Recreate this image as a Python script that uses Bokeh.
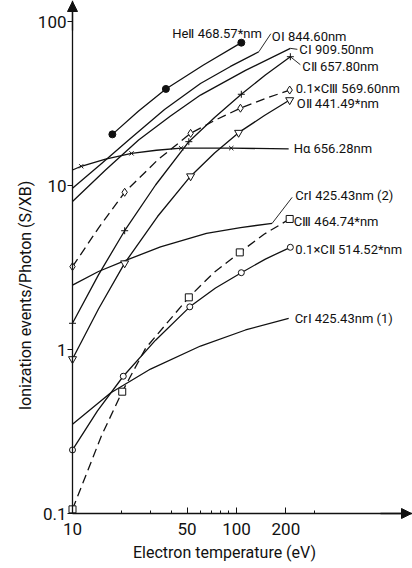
import numpy as np
from bokeh.plotting import figure
from bokeh.models import (Range1d, FixedTicker, CustomJSTickFormatter, Label,
                          Arrow, NormalHead)
from bokeh.embed import file_html
from bokeh.resources import INLINE

# ---- S/XB (ionization events per photon) versus electron temperature (eV) ----
HE2_X = [17.5, 25.3, 37.1, 62.9, 107.0]
HE2_Y = [20.5, 28.5, 38.8, 54.3, 74.3]
HE2_MX = [17.5, 37.1, 107.0]
HE2_MY = [20.5, 38.8, 74.3]

O1_X = [10.0, 14.8, 22.0, 36.4, 60.3, 91.9, 136.8]
O1_Y = [9.61, 13.43, 18.94, 29.07, 41.9, 53.2, 65.4]

C1_X = [10.0, 15.9, 25.3, 39.6, 60.3, 113.5, 213.0]
C1_Y = [7.99, 12.43, 18.94, 26.5, 35.6, 50.3, 68.6]

C2_X = [10.0, 14.4, 20.8, 32.1, 51.2, 73.5, 107.0, 150.0, 213.0]
C2_Y = [1.445, 2.85, 5.3, 10.07, 18.5, 26.0, 36.0, 47.2, 61.0]
C2_MX = [10.0, 20.8, 51.2, 107.0, 213.0]
C2_MY = [1.445, 5.3, 18.5, 36.0, 61.0]

C3A_X = [10.0, 14.4, 20.8, 33.0, 52.5, 74.5, 105.7, 150.0, 211.0]
C3A_Y = [3.2, 5.5, 9.09, 14.3, 20.8, 25.1, 29.6, 33.9, 38.2]
C3A_MX = [10.0, 20.8, 52.5, 105.7, 211.0]
C3A_MY = [3.2, 9.09, 20.8, 29.6, 38.2]

O2_X = [10.0, 14.4, 20.8, 33.0, 52.5, 73.5, 103.0, 148.0, 211.0]
O2_Y = [0.875, 1.766, 3.36, 6.47, 11.4, 15.8, 21.0, 26.7, 33.2]
O2_MX = [10.0, 20.8, 52.5, 103.0, 211.0]
O2_MY = [0.875, 3.36, 11.4, 21.0, 33.2]

HA_X = [10.0, 11.3, 15.9, 22.9, 32.5, 46.0, 92.9, 208.0]
HA_Y = [12.43, 13.1, 14.5, 15.7, 16.4, 16.9, 16.9, 16.7]
HA_MX = [11.3, 22.9, 46.0, 92.9]
HA_MY = [13.1, 15.7, 16.9, 16.9]

CR2_X = [10.0, 14.4, 20.55, 34.4, 65.6, 105.8, 165.0]
CR2_Y = [2.47, 2.99, 3.46, 4.22, 5.11, 5.54, 5.88]

C3B_X = [10.0, 15.0, 20.1, 27.9, 51.2, 72.4, 104.7, 148.0, 211.0]
C3B_Y = [0.106, 0.297, 0.553, 1.017, 2.08, 2.93, 3.91, 5.06, 6.25]
C3B_MX = [10.0, 20.1, 51.2, 104.7, 211.0]
C3B_MY = [0.106, 0.553, 2.08, 3.91, 6.25]

C2B_X = [10.0, 14.2, 20.4, 32.1, 51.9, 74.5, 107.0, 150.0, 213.0]
C2B_Y = [0.244, 0.422, 0.687, 1.14, 1.82, 2.37, 2.94, 3.56, 4.2]
C2B_MX = [10.0, 20.4, 51.9, 107.0, 213.0]
C2B_MY = [0.244, 0.687, 1.82, 2.94, 4.2]

CR1_X = [10.0, 17.05, 29.9, 60.3, 113.5, 208.0]
CR1_Y = [0.35, 0.543, 0.76, 1.05, 1.315, 1.55]

X_TICKS = [10, 50, 100, 200]
X_MINOR = [20, 30, 40, 60, 70, 80, 90, 300]
Y_TICKS = [0.1, 1, 10, 100]

# ---- page geometry (pixels); the frame fills the whole canvas ----
W, H = 412, 568
AXIS_X_PX = 72           # screen column of T = 10 eV
AXIS_Y_PX = 513          # screen row of S/XB = 0.1
DECADE = 164.0           # pixels per decade on both axes
X0, Y0 = 10.0, 0.1

def x_px(x):
    return AXIS_X_PX + DECADE * np.log10(x / X0)

def y_px(y):
    return AXIS_Y_PX - DECADE * np.log10(y / Y0)

def px_x(px):
    return X0 * 10 ** ((px - AXIS_X_PX) / DECADE)

def px_y(py):
    return Y0 * 10 ** ((AXIS_Y_PX - py) / DECADE)

FONT = "Roboto"
INK = "#111111"

p = figure(width=W, height=H, x_axis_type="log", y_axis_type="log",
           x_range=Range1d(px_x(0), px_x(W)),
           y_range=Range1d(px_y(H), px_y(0)),
           output_backend="svg", toolbar_location=None,
           min_border_left=0, min_border_right=0,
           min_border_top=0, min_border_bottom=0)
p.outline_line_color = None
p.grid.visible = False
p.background_fill_color = "white"
p.border_fill_color = "white"

# x axis along S/XB = 0.1, starting at 10 eV, ticks pointing into the plot
xa = p.xaxis[0]
xa.fixed_location = Y0
xa.bounds = (X0, px_x(W))
xa.ticker = FixedTicker(ticks=X_TICKS, minor_ticks=X_MINOR)
xa.formatter = CustomJSTickFormatter(code="return String(tick)")
xa.major_tick_in = 6
xa.major_tick_out = 0
xa.minor_tick_in = 3
xa.minor_tick_out = 0
xa.major_label_standoff = 9

# y axis along T = 10 eV
ya = p.yaxis[0]
ya.fixed_location = X0
ya.bounds = (Y0, px_y(0))
ya.ticker = FixedTicker(ticks=Y_TICKS, minor_ticks=[])
ya.formatter = CustomJSTickFormatter(code="return String(tick)")
ya.major_tick_in = 0
ya.major_tick_out = 5
ya.major_label_standoff = 1

for a in (xa, ya):
    a.axis_line_width = 1.3
    a.axis_line_color = INK
    a.major_tick_line_color = INK
    a.minor_tick_line_color = INK
    a.major_label_text_font = FONT
    a.major_label_text_font_size = "17px"
    a.major_label_text_color = INK

# arrow heads on both axes
p.add_layout(Arrow(end=NormalHead(size=10, fill_color=INK, line_color=INK),
                   x_start=X0, y_start=px_y(30), x_end=X0, y_end=px_y(1),
                   line_color=INK, line_width=1.3))
p.add_layout(Arrow(end=NormalHead(size=10, fill_color=INK, line_color=INK),
                   x_start=px_x(380), y_start=Y0, x_end=px_x(411), y_end=Y0,
                   line_color=INK, line_width=1.3))

SOLID, DASHED = "solid", "9 5"
series = [
    # text, line x, line y, marker x, marker y, marker, filled, dash, label offset, leader
    ("He\u2161 468.57*nm", HE2_X, HE2_Y, HE2_MX, HE2_MY, "circle", True, SOLID, (-69, -9), None),
    ("O\u2160 844.60nm", O1_X, O1_Y, None, None, None, False, SOLID, (13, -15), (12, -18)),
    ("C\u2160 909.50nm", C1_X, C1_Y, None, None, None, False, SOLID, (9, 1), (7, 1)),
    ("C\u2161 657.80nm", C2_X, C2_Y, C2_MX, C2_MY, "cross", False, SOLID, (12, 10), (10, 8)),
    ("0.1\u00d7C\u2162 569.60nm", C3A_X, C3A_Y, C3A_MX, C3A_MY, "diamond", False, DASHED, (6, -2), None),
    ("O\u2161 441.49*nm", O2_X, O2_Y, O2_MX, O2_MY, "inverted_triangle", False, SOLID, (7, 3), None),
    ("H\u03b1 656.28nm", HA_X, HA_Y, HA_MX, HA_MY, "x", False, SOLID, (5, 0), None),
    ("Cr\u2160 425.43nm (2)", CR2_X, CR2_Y, None, None, None, False, SOLID, (23, -28), (20, -26)),
    ("C\u2162 464.74*nm", C3B_X, C3B_Y, C3B_MX, C3B_MY, "square", False, DASHED, (4, 3), None),
    ("0.1\u00d7C\u2161 514.52*nm", C2B_X, C2B_Y, C2B_MX, C2B_MY, "circle", False, SOLID, (5, 2), None),
    ("Cr\u2160 425.43nm (1)", CR1_X, CR1_Y, None, None, None, False, SOLID, (6, 0), None),
]

for text, lx, ly, mx, my, marker, filled, dash, (dx, dy), leader in series:
    p.line(lx, ly, line_color=INK, line_width=1.3, line_dash=dash)
    ex, ey = x_px(lx[-1]), y_px(ly[-1])
    if leader is not None:
        p.segment(x0=[lx[-1]], y0=[ly[-1]],
                  x1=[px_x(ex + leader[0])], y1=[px_y(ey + leader[1])],
                  line_color=INK, line_width=0.9)
    p.add_layout(Label(x=px_x(ex + dx), y=px_y(ey + dy), text=text,
                       text_font=FONT, text_font_size="13px", text_color=INK,
                       text_align="left", text_baseline="middle"))

for text, lx, ly, mx, my, marker, filled, dash, off, leader in series:
    if marker is None:
        continue
    size = {"circle": 6, "cross": 7, "diamond": 8, "inverted_triangle": 8,
            "x": 6, "square": 7}[marker]
    if marker == "circle" and filled:
        size = 7
    p.scatter(mx, my, marker=marker, size=size, line_color=INK, line_width=1.0,
              fill_color=INK if filled else "white")

# axis titles
p.add_layout(Label(x=px_x(25), y=px_y(295), text="Ionization events/Photon (S/XB)",
                   angle=90, angle_units="deg", text_font=FONT,
                   text_font_size="16px", text_color=INK,
                   text_align="center", text_baseline="middle"))
p.add_layout(Label(x=px_x(224), y=px_y(552), text="Electron temperature (eV)",
                   text_font=FONT, text_font_size="16px", text_color=INK,
                   text_align="center", text_baseline="middle"))

open("out.html", "w").write(file_html(p, INLINE))
